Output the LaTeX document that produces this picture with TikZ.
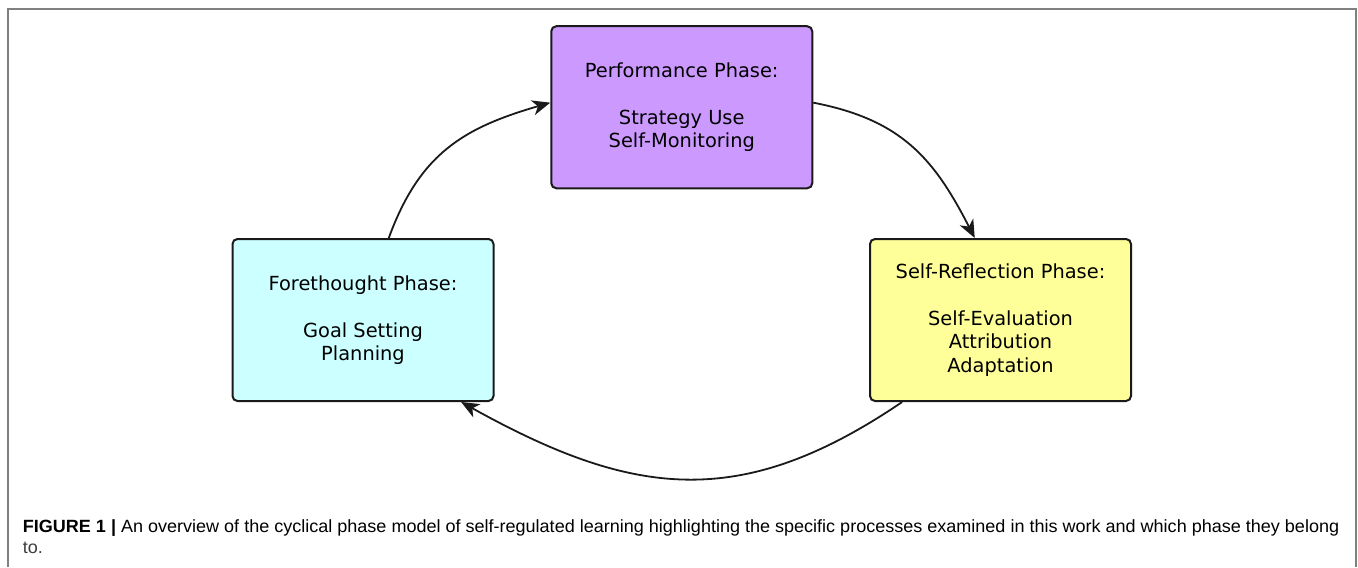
\documentclass[tikz,border=0pt]{standalone}
\usepackage{fontspec}
\usepackage{graphicx}
\usetikzlibrary{arrows.meta,calc}
\newfontfamily\boxfam{DejaVu Sans}
\newfontfamily\capfam{Liberation Sans}
\definecolor{perfcol}{HTML}{CC99FF}
\definecolor{forecol}{HTML}{CCFFFF}
\definecolor{reflcol}{HTML}{FFFF99}
\definecolor{edgecol}{HTML}{1A1A1A}
\definecolor{framecol}{HTML}{808080}
\definecolor{captext}{HTML}{3C3C3C}
\newsavebox\capboxa
\newlength\capw
\tikzset{
  phasebox/.style={draw=edgecol, line width=1pt, rounded corners=2.5pt,
    minimum width=130.5pt, minimum height=81pt, inner sep=0pt, align=center,
    font=\boxfam\fontsize{9.7}{11.75}\selectfont},
  conn/.style={line width=0.9pt, edgecol, -{Stealth[length=9pt,width=7.5pt,inset=2.6pt]}},
  framel/.style={draw=framecol, line width=1pt},
  captxt/.style={anchor=base west, inner sep=0pt, text=captext}
}
\begin{document}
\sbox\capboxa{\capfam\fontsize{8.85}{10.5}\selectfont\textbf{FIGURE 1 |} An overview of the cyclical phase model of self-regulated learning highlighting the specific processes examined in this work and which phase they belong}%
\setlength\capw{\wd\capboxa}%
\pgfmathsetmacro\capscale{658.2/\capw}%
\begin{tikzpicture}[x=0.5pt,y=-0.5pt]
\useasboundingbox (0,0) rectangle (1358,567);
\fill[white] (0,0) rectangle (1358,567);
% frame
\coordinate (fbl) at (7.5,567);
\coordinate (ftl) at (7.5,9);
\coordinate (ftr) at (1355.5,9);
\coordinate (fbr) at (1355.5,567);
\draw[framel] (fbl) -- (ftl) -- (ftr) -- (fbr);
% boxes
\node[phasebox, fill=perfcol] (perf) at (681.75,107.25)
  {Performance Phase:\\[11.75pt]Strategy Use\\Self-Monitoring};
\node[phasebox, fill=forecol] (fore) at (363,320)
  {Forethought Phase:\\[11.75pt]Goal Setting\\Planning};
\node[phasebox, fill=reflcol] (refl) at (1000.5,320)
  {Self-Reflection Phase:\\[11.75pt]Self-Evaluation\\Attribution\\Adaptation};
% connector end points on the box borders
\coordinate (a1s) at ($(fore.north west)!0.598!(fore.north east)$);
\coordinate (a1e) at ($(perf.north west)!0.472!(perf.south west)$);
\coordinate (a2s) at ($(perf.north east)!0.472!(perf.south east)$);
\coordinate (a2e) at ($(refl.north west)!0.402!(refl.north east)$);
\coordinate (a3s) at ($(refl.south west)!0.126!(refl.south east)$);
\coordinate (a3e) at ($(fore.south west)!0.873!(fore.south east)$);
\draw[conn] (a1s) .. controls +(31,-85) and +(-86,25) .. (a1e);
\draw[conn] (a2s) .. controls +(88,17) and +(-41,-80) .. (a2e);
\draw[conn] (a3s) .. controls +(-162,110) and +(171,95) .. (a3e);
% caption
\node[captxt] (cap1) at (22.5,532) {\scalebox{\capscale}[1]{\usebox\capboxa}};
\node[captxt] (cap2) at (22.5,553) {\scalebox{\capscale}[1]{\capfam\fontsize{8.85}{10.5}\selectfont to.}};
\end{tikzpicture}
\end{document}
